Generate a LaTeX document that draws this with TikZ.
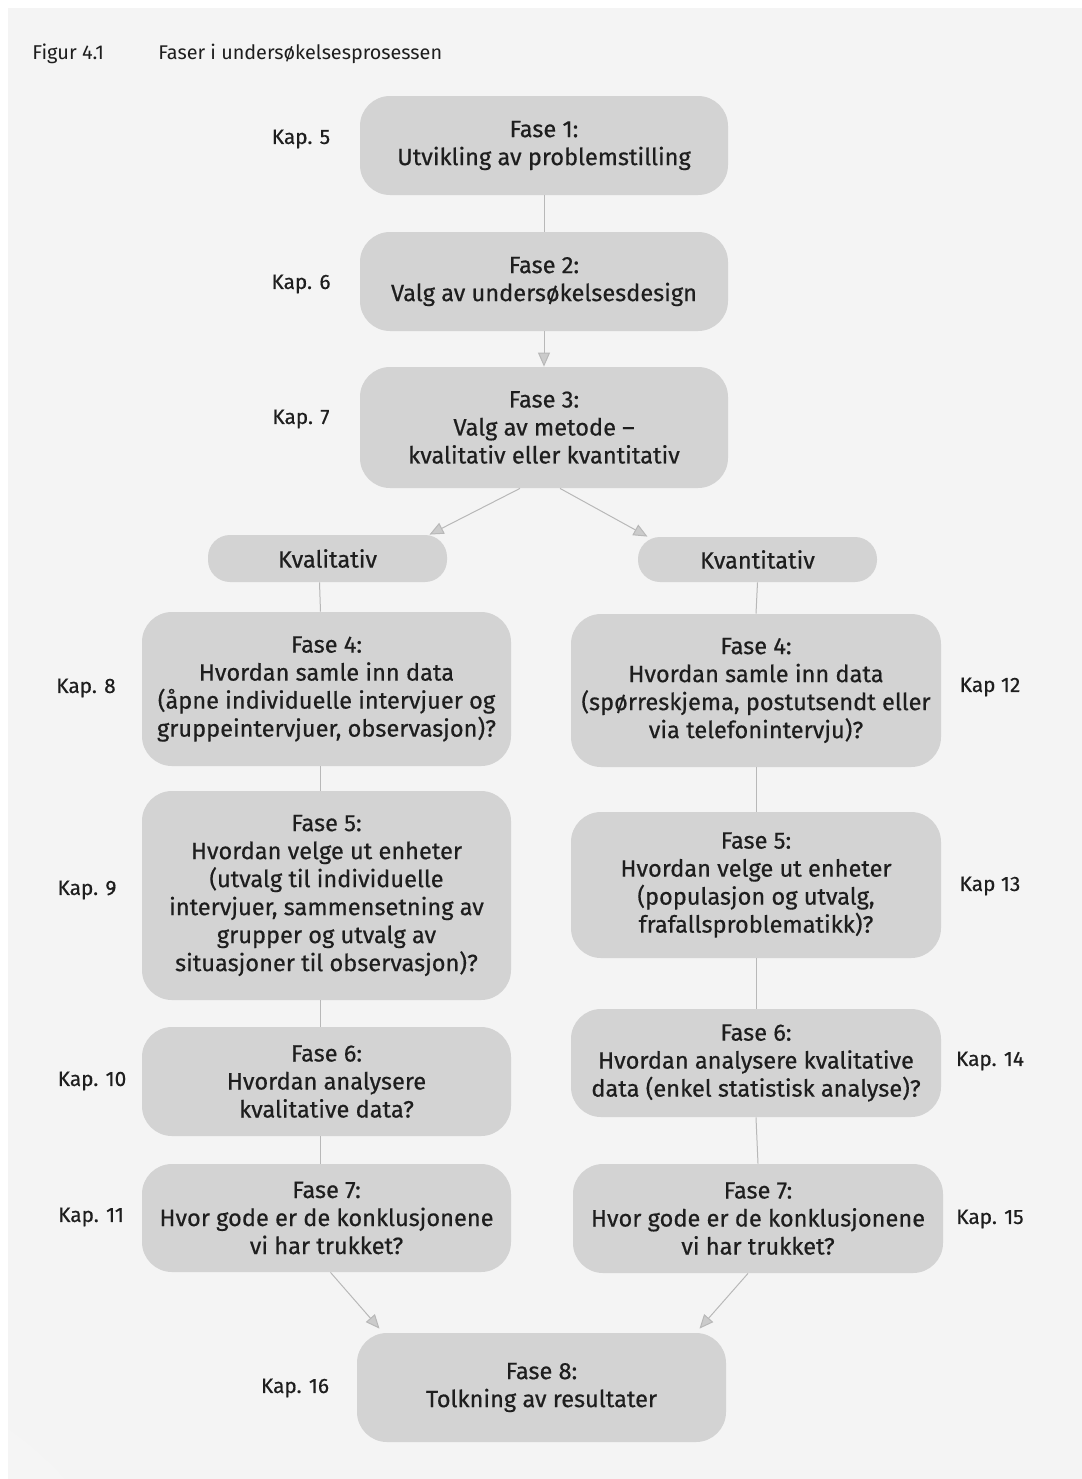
\documentclass[tikz,border=0pt]{standalone}
\usepackage{fontspec}
\setmainfont{Fira Sans}
\newfontfamily\boxfont{Fira Sans}[FakeBold=0.5]
\usetikzlibrary{arrows.meta}
\definecolor{pagebg}{HTML}{F4F4F4}
\definecolor{boxfill}{HTML}{D3D3D3}
\definecolor{txt}{HTML}{1E1E1E}
\definecolor{lnk}{HTML}{B8B8B8}
\definecolor{headfill}{HTML}{CBCBCB}
\tikzset{
  phase/.style={fill=boxfill, rounded corners=15pt, align=center, text=txt,
    font=\boxfont\fontsize{11.8}{14}\selectfont, inner sep=0pt},
  pill/.style={fill=boxfill, rounded corners=11pt, align=center, text=txt,
    font=\boxfont\fontsize{11.8}{14}\selectfont, inner sep=0pt},
  kap/.style={text=txt, font=\boxfont\fontsize{10.4}{12}\selectfont, inner sep=0pt},
  link/.style={draw=lnk, line width=0.5pt},
  arr/.style={link, -{Triangle[length=7pt,width=6pt,fill=headfill,color=lnk]}},
}
\begin{document}
\begin{tikzpicture}[x=0.5pt,y=-0.5pt]
\useasboundingbox (0,0) rectangle (1082,1479);
\fill[white] (0,0) rectangle (1082,1479);
\fill[pagebg] (8,8) rectangle (1082,1479);
\begin{scope}
\clip (8,8) rectangle (1082,1479);
\fill[black!4] (-180,1700) circle (330);
\fill[black!6] (-180,1700) circle (260);
\end{scope}
% title
\node[kap, anchor=base west, font=\fontsize{10}{12}\selectfont] (fig) at (32,59) {Figur 4.1};
\node[kap, anchor=base west, font=\fontsize{9.9}{12}\selectfont] (title) at (158,59) {Faser i undersøkelsesprosessen};
% central boxes
\node[phase, minimum width=184pt, minimum height=49.5pt] (f1) at (544,145.5) {Fase 1:\\Utvikling av problemstilling};
\node[phase, minimum width=184pt, minimum height=49.5pt] (f2) at (544,281.5) {Fase 2:\\Valg av undersøkelsesdesign};
\node[phase, minimum width=184pt, minimum height=60.5pt] (f3) at (544,427.5) {Fase 3:\\Valg av metode –\\kvalitativ eller kvantitativ};
\node[pill, minimum width=119.5pt, minimum height=23.5pt] (kl) at (327.5,558.5) {Kvalitativ};
\node[pill, minimum width=119.5pt, minimum height=22.5pt] (kr) at (757.5,559.5) {Kvantitativ};
% left column
\node[phase, minimum width=184.5pt, minimum height=77pt] (l4) at (326.5,689) {Fase 4:\\Hvordan samle inn data\\(åpne individuelle intervjuer og\\gruppeintervjuer, observasjon)?};
\node[phase, minimum width=184.5pt, minimum height=104.5pt] (l5) at (326.5,895.5) {Fase 5:\\Hvordan velge ut enheter\\(utvalg til individuelle\\intervjuer, sammensetning av\\grupper og utvalg av\\situasjoner til observasjon)?};
\node[phase, minimum width=184.5pt, minimum height=54.5pt] (l6) at (326.5,1081.5) {Fase 6:\\Hvordan analysere\\kvalitative data?};
\node[phase, minimum width=184.5pt, minimum height=54pt] (l7) at (326.5,1218) {Fase 7:\\Hvor gode er de konklusjonene\\vi har trukket?};
% right column
\node[phase, minimum width=185pt, minimum height=76.5pt] (r4) at (756,690.5) {Fase 4:\\Hvordan samle inn data\\(spørreskjema, postutsendt eller\\via telefonintervju)?};
\node[phase, minimum width=185pt, minimum height=73pt] (r5) at (756,885) {Fase 5:\\Hvordan velge ut enheter\\(populasjon og utvalg,\\frafallsproblematikk)?};
\node[phase, minimum width=185pt, minimum height=54pt] (r6) at (756,1063) {Fase 6:\\Hvordan analysere kvalitative\\data (enkel statistisk analyse)?};
\node[phase, minimum width=185pt, minimum height=54.5pt] (r7) at (758,1218.5) {Fase 7:\\Hvor gode er de konklusjonene\\vi har trukket?};
% final
\node[phase, minimum width=184.5pt, minimum height=54.5pt] (f8) at (541.5,1387.5) {Fase 8:\\Tolkning av resultater};
% chapter labels
\node[kap] (k5) at (301,139) {Kap. 5};
\node[kap] (k6) at (301,284) {Kap. 6};
\node[kap] (k7) at (301,419) {Kap. 7};
\node[kap] (k8) at (86,688) {Kap. 8};
\node[kap] (k9) at (87,890) {Kap. 9};
\node[kap] (k10) at (92,1081) {Kap. 10};
\node[kap] (k11) at (91,1217) {Kap. 11};
\node[kap] (k12) at (990,687) {Kap 12};
\node[kap] (k13) at (990,886) {Kap 13};
\node[kap] (k14) at (990,1061) {Kap. 14};
\node[kap] (k15) at (990,1219) {Kap. 15};
\node[kap] (k16) at (295,1388) {Kap. 16};
% connectors
\draw[link] (f1.south) -- (f2.north);
\draw[arr] (f2.south) -- (f3.north);
\draw[arr] ([xshift=-12pt]f3.south) -- ([xshift=51pt]kl.north);
\draw[arr] ([xshift=8pt]f3.south) -- ([xshift=-55pt]kr.north);
\draw[link] ([xshift=-4pt]kl.south) -- ([xshift=-3pt]l4.north);
\draw[link] ([xshift=-3pt]l4.south) -- ([xshift=-3pt]l5.north);
\draw[link] ([xshift=-3pt]l5.south) -- ([xshift=-3pt]l6.north);
\draw[link] ([xshift=-3pt]l6.south) -- ([xshift=-3pt]l7.north);
\draw[link] (kr.south) -- (r4.north);
\draw[link] (r4.south) -- (r5.north);
\draw[link] (r5.south) -- (r6.north);
\draw[link] (r6.south) -- (r7.north);
\draw[arr] ([xshift=2pt]l7.south) -- ([xshift=-81pt,yshift=2pt]f8.north);
\draw[arr] ([xshift=-5pt]r7.south) -- ([xshift=79pt,yshift=2pt]f8.north);
\end{tikzpicture}
\end{document}
